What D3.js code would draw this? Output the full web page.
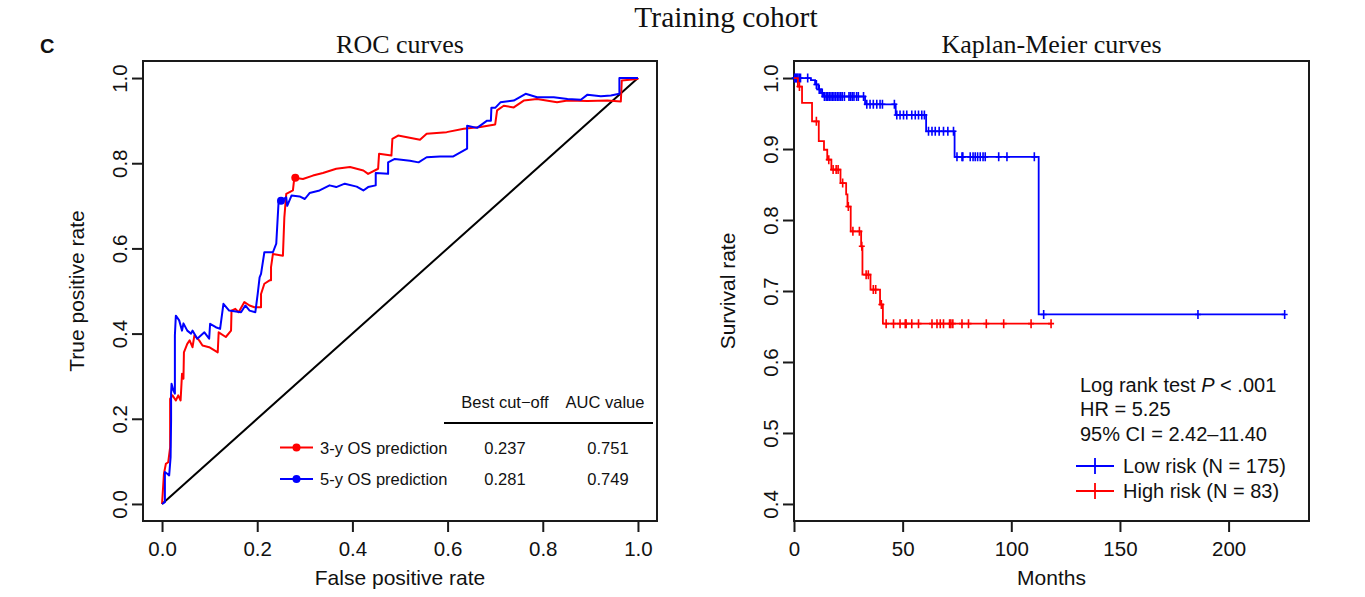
<!DOCTYPE html>
<html>
<head>
<meta charset="utf-8">
<script src="https://cdn.jsdelivr.net/npm/d3@7"></script>
<style>
  body { margin: 0; background: #fff; }
  text { font-family: "Liberation Sans", Arial, sans-serif; fill: #111; }
  .serif { font-family: "Liberation Serif", "Times New Roman", serif; }
</style>
</head>
<body>
<svg id="plot" width="1365" height="597"></svg>
<script>
// ROC curve points [false positive rate, true positive rate]
const roc3y = [
  [0,0],[0.004,0.071],[0.008,0.094],[0.013,0.098],[0.017,0.133],[0.017,0.247],[0.022,0.255],
  [0.029,0.243],[0.034,0.255],[0.039,0.243],[0.042,0.306],[0.045,0.294],[0.046,0.356],
  [0.053,0.376],[0.058,0.384],[0.064,0.368],[0.068,0.396],[0.078,0.384],[0.085,0.372],
  [0.099,0.368],[0.117,0.356],[0.119,0.403],[0.134,0.392],[0.145,0.407],[0.146,0.454],
  [0.154,0.458],[0.161,0.450],[0.173,0.474],[0.184,0.466],[0.194,0.462],[0.208,0.462],
  [0.208,0.493],[0.215,0.517],[0.226,0.525],[0.229,0.525],[0.229,0.556],[0.233,0.587],
  [0.254,0.583],[0.257,0.673],[0.261,0.728],[0.275,0.736],[0.278,0.766],[0.296,0.763],
  [0.317,0.771],[0.338,0.777],[0.366,0.787],[0.395,0.791],[0.423,0.783],[0.433,0.775],
  [0.454,0.787],[0.456,0.822],[0.482,0.818],[0.484,0.857],[0.496,0.865],[0.542,0.855],
  [0.556,0.869],[0.598,0.873],[0.634,0.881],[0.669,0.885],[0.700,0.891],[0.704,0.924],
  [0.718,0.935],[0.739,0.931],[0.760,0.947],[0.788,0.951],[0.830,0.943],[0.852,0.947],
  [0.894,0.946],[0.936,0.947],[0.964,0.945],[0.966,0.994],[0.999,0.998],[1,1]
];
const roc5y = [
  [0,0],[0.006,0.004],[0.006,0.075],[0.011,0.071],[0.015,0.067],[0.018,0.110],[0.019,0.196],
  [0.019,0.259],[0.020,0.282],[0.024,0.266],[0.027,0.259],[0.027,0.396],[0.029,0.442],
  [0.036,0.431],[0.042,0.407],[0.045,0.424],[0.053,0.407],[0.061,0.400],[0.064,0.407],
  [0.074,0.388],[0.089,0.403],[0.099,0.388],[0.101,0.423],[0.113,0.415],[0.122,0.411],
  [0.129,0.470],[0.141,0.454],[0.166,0.450],[0.175,0.466],[0.184,0.454],[0.196,0.450],
  [0.201,0.493],[0.205,0.532],[0.208,0.540],[0.215,0.591],[0.233,0.591],[0.240,0.611],
  [0.245,0.712],[0.250,0.712],[0.261,0.720],[0.263,0.700],[0.272,0.724],[0.289,0.722],
  [0.300,0.716],[0.310,0.730],[0.331,0.736],[0.352,0.748],[0.366,0.744],[0.384,0.752],
  [0.409,0.745],[0.423,0.736],[0.433,0.744],[0.449,0.748],[0.449,0.777],[0.475,0.775],
  [0.475,0.802],[0.489,0.810],[0.521,0.806],[0.539,0.802],[0.556,0.814],[0.584,0.816],
  [0.612,0.816],[0.641,0.834],[0.641,0.888],[0.662,0.883],[0.683,0.900],[0.691,0.900],
  [0.692,0.930],[0.700,0.930],[0.711,0.943],[0.739,0.947],[0.764,0.963],[0.788,0.955],
  [0.823,0.955],[0.852,0.951],[0.880,0.949],[0.894,0.961],[0.922,0.957],[0.943,0.959],
  [0.961,0.963],[0.961,1.0],[0.978,1.0],[1,1]
];
// best cut-off points on each curve
const cutPoints = [[0.280, 0.766], [0.250, 0.712]];
const rocNames = ["3-y OS prediction", "5-y OS prediction"];
const bestCutoff = ["0.237", "0.281"];
const aucValue = ["0.751", "0.749"];
const rocTicks = [0, 0.2, 0.4, 0.6, 0.8, 1.0];

// Kaplan-Meier step data (months, survival)
const highTimes = [0,1.8,3.7,8.3,11.4,13.8,15.3,17.2,21.4,24.0,24.6,26.1,30.9,31.5,35.2,39.6,40.9];
const highSurv  = [1,0.988,0.965,0.939,0.911,0.899,0.885,0.871,0.852,0.836,0.819,0.784,0.763,0.723,0.702,0.681,0.654];
const highEnd = 118.3;
const highCensor = [2.5,10.3,16.0,18.0,19.4,20.3,22.4,25.0,27.1,30.1,31.2,33.2,34.2,36.5,37.6,40.2,
  42.4,45.8,48.8,51.2,51.6,54.2,57.3,63.5,65.8,67.3,68.8,71.6,72.2,73.1,77.3,80.3,88.5,96.5,109.1,118.3];

const lowTimes = [0,7.8,9.7,11.2,12.4,13.5,32.7,46.8,60.8,73.9,112.6];
const lowSurv  = [1,0.997,0.991,0.984,0.979,0.974,0.963,0.948,0.925,0.889,0.667];
const lowEnd = 225.8;
const lowCensor = [0.3,0.8,1.3,1.8,2.4,3.0,6.3,10.3,11.6,13.0,
  14.0,14.8,15.5,16.2,17.0,17.7,18.4,19.2,20.0,20.7,21.5,22.2,23.2,25.3,26.0,26.8,27.6,28.8,29.6,32.0,
  33.5,35.0,36.5,38.1,39.6,40.7,46.2,
  47.3,48.8,50.4,51.9,54.2,55.8,57.3,58.8,60.0,
  61.9,63.5,65.0,66.8,68.8,70.8,73.4,
  75.0,77.3,77.7,81.1,82.4,83.4,84.5,85.7,87.0,88.0,94.2,98.0,110.6,
  114.9,185.9,225.8];
const kmXTicks = [0, 50, 100, 150, 200];
const kmYTicks = [0.4, 0.5, 0.6, 0.7, 0.8, 0.9, 1.0];
const kmStats = ["HR = 5.25", "95% CI = 2.42\u201311.40"];
const kmGroups = ["Low risk (N = 175)", "High risk (N = 83)"];

const RED = "#ff0000", BLUE = "#0000ff";
const svg = d3.select("#plot");

// overall labels
svg.append("text").attr("class", "serif").attr("x", 726).attr("y", 27)
  .attr("text-anchor", "middle").style("font-size", "29.5px").text("Training cohort");
svg.append("text").attr("x", 40).attr("y", 53).style("font-size", "20px")
  .style("font-weight", "bold").text("C");

// draw a framed panel with R-like axes
function panel(x, y, xTicks, yTicks, xFmt, yFmt, title, xLabel, yLabel) {
  const [x0, x1] = x.range();
  const [y0, y1] = y.range();
  svg.append("rect").attr("x", x0).attr("y", y1).attr("width", x1 - x0).attr("height", y0 - y1)
    .attr("fill", "none").attr("stroke", "#1a1a1a").attr("stroke-width", 2);

  const gx = svg.append("g").attr("transform", "translate(0," + y0 + ")")
    .call(d3.axisBottom(x).tickValues(xTicks).tickFormat(xFmt).tickSize(11).tickPadding(9));
  gx.select(".domain").remove();
  gx.selectAll("line").attr("stroke", "#1a1a1a").attr("stroke-width", 2);
  gx.selectAll("text").style("font-size", "20.5px").attr("fill", "#111");

  const gy = svg.append("g").attr("transform", "translate(" + x0 + ",0)")
    .call(d3.axisLeft(y).tickValues(yTicks).tickFormat(yFmt).tickSize(11));
  gy.select(".domain").remove();
  gy.selectAll("line").attr("stroke", "#1a1a1a").attr("stroke-width", 2);
  gy.selectAll("text").style("font-size", "20.5px").attr("fill", "#111")
    .attr("x", 0).attr("y", -16).attr("dy", 0)
    .attr("transform", "rotate(-90)").attr("text-anchor", "middle");

  svg.append("text").attr("class", "serif").attr("x", (x0 + x1) / 2).attr("y", 53)
    .attr("text-anchor", "middle").style("font-size", "26px").text(title);
  svg.append("text").attr("x", (x0 + x1) / 2).attr("y", 585)
    .attr("text-anchor", "middle").style("font-size", "21px").text(xLabel);
  svg.append("text").attr("transform", "translate(" + (x0 - 59) + "," + ((y0 + y1) / 2) + ") rotate(-90)")
    .attr("text-anchor", "middle").style("font-size", "21px").text(yLabel);
}

// ---------- ROC panel ----------
const rocX = d3.scaleLinear().domain([-0.04, 1.04]).range([143, 657]);
const rocY = d3.scaleLinear().domain([-0.04, 1.04]).range([521, 61]);
panel(rocX, rocY, rocTicks, rocTicks, d3.format(".1f"), d3.format(".1f"),
  "ROC curves", "False positive rate", "True positive rate");

svg.append("line").attr("x1", rocX(0)).attr("y1", rocY(0)).attr("x2", rocX(1)).attr("y2", rocY(1))
  .attr("stroke", "#000").attr("stroke-width", 2);

const rocLine = d3.line().x(d => rocX(d[0])).y(d => rocY(d[1]));
[[roc3y, RED], [roc5y, BLUE]].forEach(([pts, col]) => {
  svg.append("path").datum(pts).attr("d", rocLine)
    .attr("fill", "none").attr("stroke", col).attr("stroke-width", 2).attr("stroke-linejoin", "round");
});
svg.selectAll(".cut").data(cutPoints).enter().append("circle")
  .attr("cx", d => rocX(d[0])).attr("cy", d => rocY(d[1])).attr("r", 4)
  .attr("fill", (d, i) => i === 0 ? RED : BLUE);

// ROC legend table
svg.append("text").attr("x", 505).attr("y", 408).attr("text-anchor", "middle")
  .style("font-size", "16.5px").text("Best cut\u2212off");
svg.append("text").attr("x", 605).attr("y", 408).attr("text-anchor", "middle")
  .style("font-size", "16.5px").text("AUC value");
svg.append("line").attr("x1", 444).attr("x2", 653).attr("y1", 423).attr("y2", 423)
  .attr("stroke", "#000").attr("stroke-width", 2);
rocNames.forEach((name, i) => {
  const yy = 447.5 + i * 31.5;
  const col = i === 0 ? RED : BLUE;
  svg.append("line").attr("x1", 280).attr("x2", 313).attr("y1", yy).attr("y2", yy)
    .attr("stroke", col).attr("stroke-width", 2);
  svg.append("circle").attr("cx", 296.5).attr("cy", yy).attr("r", 4).attr("fill", col);
  svg.append("text").attr("x", 320).attr("y", yy + 6).style("font-size", "16.5px").text(name);
  svg.append("text").attr("x", 505).attr("y", yy + 6).attr("text-anchor", "middle")
    .style("font-size", "16.5px").text(bestCutoff[i]);
  svg.append("text").attr("x", 608).attr("y", yy + 6).attr("text-anchor", "middle")
    .style("font-size", "16.5px").text(aucValue[i]);
});

// ---------- Kaplan-Meier panel ----------
const kmX = d3.scaleLinear().domain([0, 237]).range([794, 1309]);
const kmY = d3.scaleLinear().domain([0.376, 1.024]).range([521, 61]);
panel(kmX, kmY, kmXTicks, kmYTicks, d3.format("d"), d3.format(".1f"),
  "Kaplan-Meier curves", "Months", "Survival rate");

const stepLine = d3.line().x(d => kmX(d[0])).y(d => kmY(d[1])).curve(d3.curveStepAfter);
function drawKM(times, surv, end, censor, col) {
  const pts = times.map((t, i) => [t, surv[i]]);
  pts.push([end, surv[surv.length - 1]]);
  svg.append("path").datum(pts).attr("d", stepLine)
    .attr("fill", "none").attr("stroke", col).attr("stroke-width", 1.8);
  const marks = censor.map(t => [t, surv[d3.bisectRight(times, t) - 1]]);
  const g = svg.append("g").attr("stroke", col).attr("stroke-width", 1.6);
  g.selectAll("path").data(marks).enter().append("path")
    .attr("d", d => {
      const cx = kmX(d[0]), cy = kmY(d[1]);
      return "M" + cx + "," + (cy - 4.5) + "V" + (cy + 4.5) + "M" + (cx - 3) + "," + cy + "H" + (cx + 3);
    });
}
drawKM(lowTimes, lowSurv, lowEnd, lowCensor, BLUE);
drawKM(highTimes, highSurv, highEnd, highCensor, RED);

// KM legend
const lg = svg.append("text").attr("x", 1080).attr("y", 392).style("font-size", "20px");
lg.append("tspan").text("Log rank test ");
lg.append("tspan").style("font-style", "italic").text("P");
lg.append("tspan").text(" < .001");
kmStats.forEach((s, i) => {
  svg.append("text").attr("x", 1080).attr("y", 416 + i * 24.5).style("font-size", "20px").text(s);
});
kmGroups.forEach((s, i) => {
  const yy = 466 + i * 25;
  const col = i === 0 ? BLUE : RED;
  svg.append("path").attr("d", "M1076," + yy + "H1114M1095," + (yy - 8) + "V" + (yy + 8))
    .attr("stroke", col).attr("stroke-width", 1.8).attr("fill", "none");
  svg.append("text").attr("x", 1123).attr("y", yy + 7).style("font-size", "20px").text(s);
});
</script>
</body>
</html>
